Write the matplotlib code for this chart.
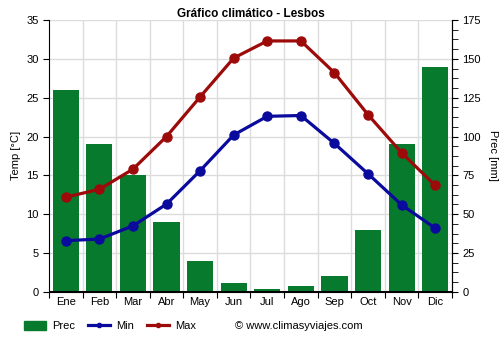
import matplotlib
matplotlib.use("Agg")
import matplotlib.pyplot as plt
from matplotlib.ticker import MultipleLocator
from matplotlib.patches import Patch
from matplotlib.lines import Line2D

plt.rcParams['font.family'] = ['Liberation Sans', 'DejaVu Sans']

months = ["Ene", "Feb", "Mar", "Abr", "May", "Jun", "Jul", "Ago", "Sep", "Oct", "Nov", "Dic"]
prec = [130, 95, 75, 45, 20, 6, 2, 4, 10, 40, 95, 145]
tmin = [6.6, 6.8, 8.5, 11.3, 15.6, 20.2, 22.6, 22.7, 19.1, 15.2, 11.2, 8.2]
tmax = [12.2, 13.2, 15.8, 20.0, 25.1, 30.1, 32.3, 32.3, 28.2, 22.8, 17.9, 13.7]

green = "#077a2e"
blue = "#0a0a9c"
red = "#9c0a0a"

fig = plt.figure(figsize=(5, 3.5), dpi=100)
ax = fig.add_axes([0.098, 0.166, 0.806, 0.777])
ax2 = ax.twinx()

x = list(range(len(months)))

# Precipitation bars on the right axis
ax2.bar(x, prec, width=0.78, color=green, zorder=2)
ax2.set_ylim(0, 175)
ax2.yaxis.set_major_locator(MultipleLocator(25))
ax2.yaxis.set_minor_locator(MultipleLocator(6.25))
ax2.set_ylabel("Prec [mm]", fontsize=8, rotation=270, labelpad=12)

# Temperature lines on the left axis, drawn above the bars
ax.set_zorder(ax2.get_zorder() + 1)
ax.patch.set_visible(False)
ax.plot(x, tmin, color=blue, lw=2.3, marker="o", ms=6.5, zorder=4)
ax.plot(x, tmax, color=red, lw=2.3, marker="o", ms=6.5, zorder=4)
ax.set_ylim(0, 35)
ax.set_xlim(-0.5, 11.5)
ax.yaxis.set_major_locator(MultipleLocator(5))
ax.set_ylabel("Temp [°C]", fontsize=8)

# Grid drawn behind the bars
ax2.set_axisbelow(True)
for yv in range(5, 36, 5):
    ax2.axhline(yv * 5, color="#dcdcdc", lw=1, zorder=0)
for xv in range(1, 12):
    ax2.axvline(xv - 0.5, color="#dcdcdc", lw=1, zorder=0)

# Thick baseline
ax.axhline(0, color="black", lw=2.2, zorder=3)

ax.set_xticks([i - 0.5 for i in range(13)])
ax.set_xticklabels([])
ax.set_xticks(x, minor=True)
ax.set_xticklabels(months, minor=True, fontsize=8)
ax.tick_params(axis="x", which="minor", length=0, pad=4)
ax.tick_params(axis="x", which="major", length=4)
ax.tick_params(axis="y", labelsize=8, length=4)
ax2.tick_params(axis="y", which="both", labelsize=8, length=4)
ax2.tick_params(axis="y", which="minor", length=4)

for a in (ax, ax2):
    a.spines["top"].set_visible(False)
ax2.spines["left"].set_visible(False)
ax2.spines["bottom"].set_visible(False)

ax.set_title("Gráfico climático - Lesbos", fontsize=8.5, fontweight="bold", pad=-1)

handles = [
    Patch(color=green, label="Prec"),
    Line2D([0], [0], color=blue, lw=2.3, marker="o", ms=3, label="Min"),
    Line2D([0], [0], color=red, lw=2.3, marker="o", ms=3, label="Max"),
]
fig.legend(handles=handles, loc="center left", bbox_to_anchor=(0.048, 0.069), ncol=3,
           frameon=False, fontsize=8, handlelength=2.0, handleheight=0.9,
           columnspacing=1.2, handletextpad=0.5, borderaxespad=0, borderpad=0)
fig.text(0.47, 0.069, "© www.climasyviajes.com", fontsize=8, va="center")

fig.savefig("out.png", dpi=100)
